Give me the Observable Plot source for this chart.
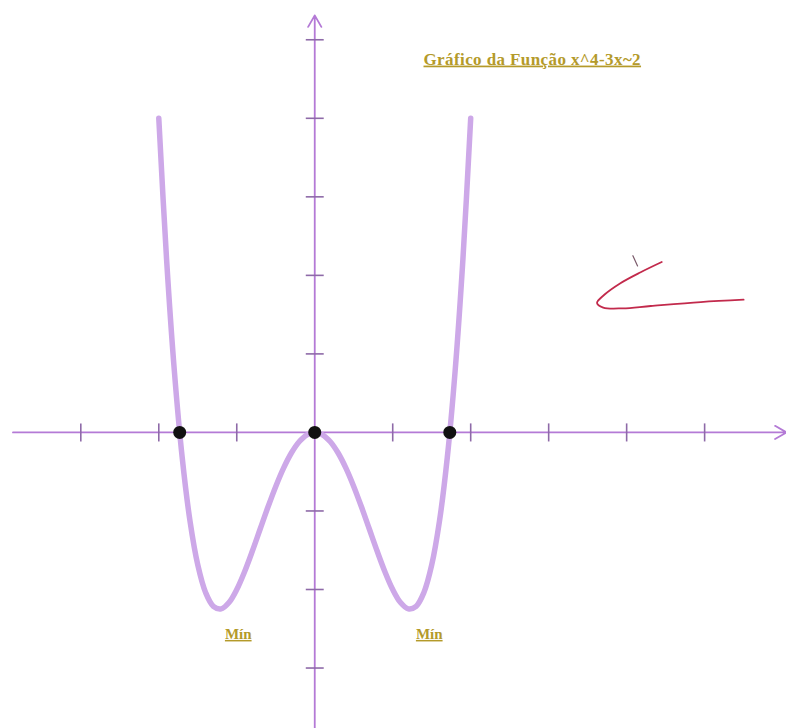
<!DOCTYPE html>
<html>
<head>
<meta charset="utf-8">
<script src="https://cdn.jsdelivr.net/npm/d3@7"></script>
<script src="https://cdn.jsdelivr.net/npm/@observablehq/plot@0.6"></script>
<style>
  html, body { margin: 0; padding: 0; background: #ffffff; }
  #chart { position: relative; width: 786px; height: 728px; }
</style>
</head>
<body>
<div id="chart"></div>
<script>
// Sampled points of f(x) = x^4 - 3x^2 on [-2, 2]
const curveX = [-2.0, -1.9, -1.8, -1.7, -1.6, -1.5, -1.4, -1.3, -1.2, -1.1, -1.0, -0.9, -0.8, -0.7, -0.6, -0.5, -0.4, -0.3, -0.2, -0.1,
                 0.0, 0.1, 0.2, 0.3, 0.4, 0.5, 0.6, 0.7, 0.8, 0.9, 1.0, 1.1, 1.2, 1.3, 1.4, 1.5, 1.6, 1.7, 1.8, 1.9, 2.0];
const curveY = [4.0, 2.2021, 0.7776, -0.3179, -1.1264, -1.6875, -2.0384, -2.2139, -2.2464, -2.1659, -2.0, -1.7739, -1.5104, -1.2299, -0.9504, -0.6875, -0.4544, -0.2619, -0.1184, -0.0299,
                 0.0, -0.0299, -0.1184, -0.2619, -0.4544, -0.6875, -0.9504, -1.2299, -1.5104, -1.7739, -2.0, -2.1659, -2.2464, -2.2139, -2.0384, -1.6875, -1.1264, -0.3179, 0.7776, 2.2021, 4.0];

// Roots of the function
const rootsX = [-1.732, 0, 1.732];

// Local minima
const minX = [-1.2247, 1.2247];
const minY = [-2.25, -2.25];
const minLabel = ["Mín", "Mín"];

// Axis ticks
const xTicks = [-3, -2, -1, 1, 2, 3, 4, 5];
const yTicks = [-3, -2, -1, 1, 2, 3, 4, 5];

// Plot window and drawn axis extent
const xDomain = [-4.03, 6.05];
const yDomain = [-3.77, 5.50];
const xAxisSpan = [-3.87, 6.05];
const yAxisSpan = [-3.77, 5.31];

// Handwritten check mark in the margin
const checkX = [4.45, 4.18, 3.92, 3.71, 3.62, 3.70, 3.95, 4.31, 4.95, 5.50];
const checkY = [2.17, 2.04, 1.90, 1.75, 1.65, 1.59, 1.58, 1.61, 1.66, 1.69];
const flickX = [4.08, 4.14];
const flickY = [2.25, 2.12];

const title = "Gráfico da Função x^4-3x~2";

const curve = curveX.map((x, i) => ({x, y: curveY[i]}));
const minima = minX.map((x, i) => ({x, y: minY[i], label: minLabel[i]}));
const check = checkX.map((x, i) => ({x, y: checkY[i]}));
const flick = flickX.map((x, i) => ({x, y: flickY[i]}));

const axisColor = "#b47ad6";
const tickColor = "#8e6aa8";
const curveColor = "#cda8e8";
const labelColor = "#b49a2a";
const serif = "'Liberation Serif', 'DejaVu Serif', serif";

const chart = Plot.plot({
  width: 786,
  height: 728,
  margin: 0,
  x: {domain: xDomain, axis: null},
  y: {domain: yDomain, axis: null},
  marks: [
    // axes with arrowheads
    Plot.arrow([0], {x1: xAxisSpan[0], x2: xAxisSpan[1], y1: 0, y2: 0, stroke: axisColor, strokeWidth: 1.8, headLength: 11, bend: false}),
    Plot.arrow([0], {x1: 0, x2: 0, y1: yAxisSpan[0], y2: yAxisSpan[1], stroke: axisColor, strokeWidth: 1.8, headLength: 11, bend: false}),
    // tick marks
    Plot.link(xTicks, {x1: d => d, x2: d => d, y1: -0.115, y2: 0.115, stroke: tickColor, strokeWidth: 1.6}),
    Plot.link(yTicks, {x1: -0.115, x2: 0.115, y1: d => d, y2: d => d, stroke: tickColor, strokeWidth: 1.6}),
    // function curve
    Plot.line(curve, {x: "x", y: "y", curve: "catmull-rom", stroke: curveColor, strokeWidth: 5.5, strokeLinecap: "round"}),
    // roots
    Plot.dot(rootsX, {x: d => d, y: 0, r: 6.5, fill: "#111111"}),
    // minimum labels
    Plot.text(minima, {x: "x", y: "y", text: "label", dx: 19, dy: 25, fill: labelColor, fontSize: 15, fontFamily: serif, fontWeight: "bold", className: "ul"}),
    // title
    Plot.text([title], {frameAnchor: "top-left", dx: 423, dy: 52, textAnchor: "start", fill: labelColor, fontSize: 17, fontFamily: serif, fontWeight: "bold", className: "ul title"}),
    // check mark
    Plot.line(check, {x: "x", y: "y", curve: "catmull-rom", stroke: "#c22a4c", strokeWidth: 1.8}),
    Plot.line(flick, {x: "x", y: "y", stroke: "#7a5a6a", strokeWidth: 1.2})
  ]
});

d3.select(chart).selectAll(".ul text").attr("text-decoration", "underline");
d3.select(chart).selectAll(".title text").attr("letter-spacing", "0.4px");
document.getElementById("chart").appendChild(chart);
</script>
</body>
</html>
